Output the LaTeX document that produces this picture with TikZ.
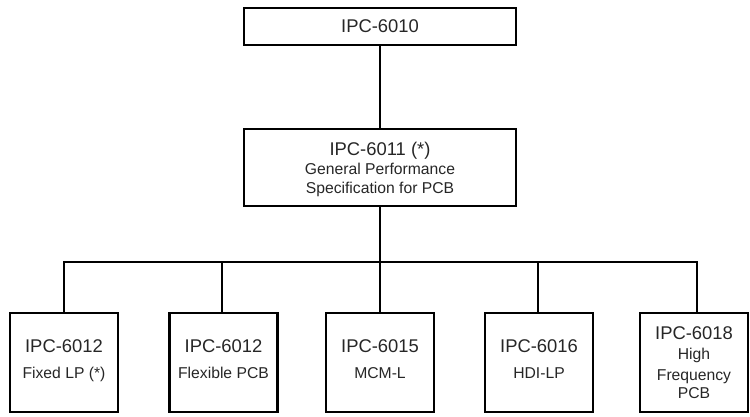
\documentclass[tikz,border=0pt]{standalone}
\usepackage{fontspec}
\setmainfont{Liberation Sans}
\begin{document}
\begin{tikzpicture}[x=1pt,y=-1pt,
  box/.style={draw=black,line width=2.5pt,inner sep=0pt,align=center,
    font=\fontsize{15.7}{19}\selectfont,text=black!85},
  wide/.style={box,minimum width=272pt},
  leaf/.style={box,minimum width=108pt,minimum height=99pt,
    font=\fontsize{15.7}{20}\selectfont},
  conn/.style={draw=black,line width=2pt,line join=miter}]
\useasboundingbox (0,0) rectangle (750,416);
\newcommand{\ttl}[1]{{\fontsize{18.4}{22}\selectfont #1}}
\newcommand{\dn}{\rule[-7pt]{0pt}{7pt}}
\node[wide,minimum height=37pt] (top) at (380,26.5) {\ttl{IPC-6010}};
\node[wide,minimum height=77pt] (mid) at (380,167.5)
  {\rule{0pt}{17pt}\ttl{IPC-6011 (*)}\\General Performance\\Specification for PCB};
\node[leaf] (b1) at (64,362.5) {\ttl{IPC-6012}\\[5.4pt]Fixed LP (*)\dn};
\node[leaf] (b2) at (223.5,362.5) {\ttl{IPC-6012}\\[5.4pt]Flexible PCB\dn};
\node[leaf] (b3) at (380,362.5) {\ttl{IPC-6015}\\[5.4pt]MCM-L\dn};
\node[leaf] (b4) at (539,362.5) {\ttl{IPC-6016}\\[5.4pt]HDI-LP\dn};
\node[leaf] (b5) at (694,362.5) {\ttl{IPC-6018}\\[0.5pt]High\\[0.5pt]Frequency\\[-1.5pt]PCB};
\coordinate (bar) at (380,261.5);
\draw[conn] (top.south) -- (mid.north);
\draw[conn] (mid.south) -- (bar);
\draw[conn] (bar) -| (b1.north);
\draw[conn] (bar) -| ([xshift=-1.5pt]b2.north);
\draw[conn] (bar) -- (b3.north);
\draw[conn] (bar) -| ([xshift=-1pt]b4.north);
\draw[conn] (bar) -| ([xshift=3pt]b5.north);
\end{tikzpicture}
\end{document}
